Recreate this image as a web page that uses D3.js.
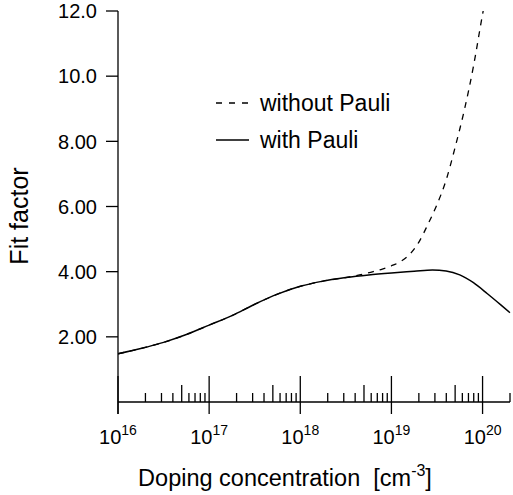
<!DOCTYPE html>
<html>
<head>
<meta charset="utf-8">
<script src="https://cdn.jsdelivr.net/npm/d3@7"></script>
<style>
  html, body { margin: 0; padding: 0; background: #fff; }
  svg { display: block; font-family: "Liberation Sans", Arial, Helvetica, sans-serif; }
</style>
</head>
<body>
<svg id="chart" width="513" height="495"></svg>
<script>
// ---- data (log10 of doping concentration in cm^-3 -> fit factor) ----
const withPauliLogN = [16.0, 16.25, 16.5, 16.75, 17.0, 17.25, 17.5, 17.75, 18.0, 18.25, 18.5, 18.75, 19.0, 19.25, 19.45, 19.6, 19.75, 19.9, 20.05, 20.2, 20.3];
const withPauliFit  = [1.48, 1.64, 1.83, 2.07, 2.36, 2.65, 3.00, 3.31, 3.55, 3.71, 3.82, 3.90, 3.96, 4.01, 4.05, 4.02, 3.90, 3.66, 3.33, 2.98, 2.74];

const withoutPauliLogN = [16.0, 16.25, 16.5, 16.75, 17.0, 17.25, 17.5, 17.75, 18.0, 18.25, 18.5, 18.65, 18.8, 18.9, 19.0, 19.1, 19.2, 19.3, 19.4, 19.5, 19.6, 19.7, 19.8, 19.9, 20.0, 20.01];
const withoutPauliFit  = [1.48, 1.64, 1.83, 2.07, 2.36, 2.65, 3.00, 3.31, 3.55, 3.71, 3.82, 3.90, 4.00, 4.08, 4.18, 4.31, 4.53, 4.90, 5.45, 6.06, 6.81, 7.83, 8.96, 10.3, 11.9, 12.05];

const yTickValues = [2, 4, 6, 8, 10, 12];
const yTickLabels = ["2.00", "4.00", "6.00", "8.00", "10.0", "12.0"];
const xMajorExponents = [16, 17, 18, 19, 20];
const xMinorMultipliers = [2, 3, 4, 5, 6, 7, 8, 9];
const seriesNames = ["without Pauli", "with Pauli"];

// ---- layout ----
const svg = d3.select("#chart");
const x0 = 118, x1 = 510, yTop = 11, yBase = 402;

const x = d3.scaleLog().domain([1e16, 2e20]).range([x0, x1]);
const y = d3.scaleLinear().domain([0, 12]).range([yBase, yTop]);

const ink = "#000";
const axisW = 1.3;

// clip for curves
svg.append("defs").append("clipPath").attr("id", "plotclip")
  .append("rect").attr("x", x0).attr("y", y(12)).attr("width", x1 - x0 + 2).attr("height", yBase - y(12));

// ---- y axis ----
svg.append("line").attr("x1", x0).attr("x2", x0).attr("y1", y(12)).attr("y2", yBase + 12)
  .attr("stroke", ink).attr("stroke-width", axisW);
const yT = svg.append("g");
yTickValues.forEach((v, i) => {
  yT.append("line").attr("x1", x0 - 12).attr("x2", x0).attr("y1", y(v)).attr("y2", y(v))
    .attr("stroke", ink).attr("stroke-width", axisW);
  yT.append("text").attr("x", x0 - 21).attr("y", y(v)).attr("dy", "0.36em")
    .attr("text-anchor", "end").attr("font-size", 20).attr("fill", ink).text(yTickLabels[i]);
});

// ---- x axis ----
svg.append("line").attr("x1", x0).attr("x2", x1).attr("y1", yBase).attr("y2", yBase)
  .attr("stroke", ink).attr("stroke-width", axisW);
const xT = svg.append("g");
xMajorExponents.forEach(e => {
  const v = Math.pow(10, e);
  xT.append("line").attr("x1", x(v)).attr("x2", x(v)).attr("y1", yBase - 26).attr("y2", yBase + 12)
    .attr("stroke", ink).attr("stroke-width", axisW);
  const t = xT.append("text").attr("x", x(v)).attr("y", yBase + 42)
    .attr("text-anchor", "middle").attr("font-size", 20).attr("fill", ink);
  t.append("tspan").text("10");
  t.append("tspan").attr("font-size", 14).attr("dy", -9).text(String(e));
  xMinorMultipliers.forEach(m => {
    const mv = m * v;
    if (mv > x.domain()[1] * 1.0001) return;
    xT.append("line").attr("x1", x(mv)).attr("x2", x(mv))
      .attr("y1", yBase - (m === 5 ? 17 : 9)).attr("y2", yBase)
      .attr("stroke", ink).attr("stroke-width", axisW);
  });
});

// ---- titles ----
const xt = svg.append("text").attr("x", 285).attr("y", 486).attr("text-anchor", "middle")
  .attr("font-size", 23.5).attr("fill", ink);
xt.append("tspan").text("Doping concentration\u00a0\u00a0[cm");
xt.append("tspan").attr("font-size", 16).attr("dy", -10).text("-3");
xt.append("tspan").attr("dy", 10).text("]");

svg.append("text").attr("transform", "translate(28,216) rotate(-90)")
  .attr("text-anchor", "middle").attr("font-size", 25).attr("fill", ink).text("Fit factor");

// ---- curves ----
const line = d3.line()
  .x(d => x(Math.pow(10, d[0])))
  .y(d => y(d[1]))
  .curve(d3.curveMonotoneX);

const solidData = withPauliLogN.map((n, i) => [n, withPauliFit[i]]);
const dashData = withoutPauliLogN.map((n, i) => [n, withoutPauliFit[i]]);

const plot = svg.append("g").attr("clip-path", "url(#plotclip)");
plot.append("path").datum(dashData).attr("d", line)
  .attr("fill", "none").attr("stroke", ink).attr("stroke-width", 1.3).attr("stroke-dasharray", "6,6");
plot.append("path").datum(solidData).attr("d", line)
  .attr("fill", "none").attr("stroke", ink).attr("stroke-width", 1.5);

// ---- legend ----
const leg = svg.append("g");
const legY = [103, 140];
const legDash = ["6,7", null];
seriesNames.forEach((name, i) => {
  leg.append("line").attr("x1", 216).attr("x2", 249).attr("y1", legY[i]).attr("y2", legY[i])
    .attr("stroke", ink).attr("stroke-width", 1.3).attr("stroke-dasharray", legDash[i]);
  leg.append("text").attr("x", 260).attr("y", legY[i]).attr("dy", "0.36em")
    .attr("font-size", 23).attr("fill", ink).text(name);
});
</script>
</body>
</html>
